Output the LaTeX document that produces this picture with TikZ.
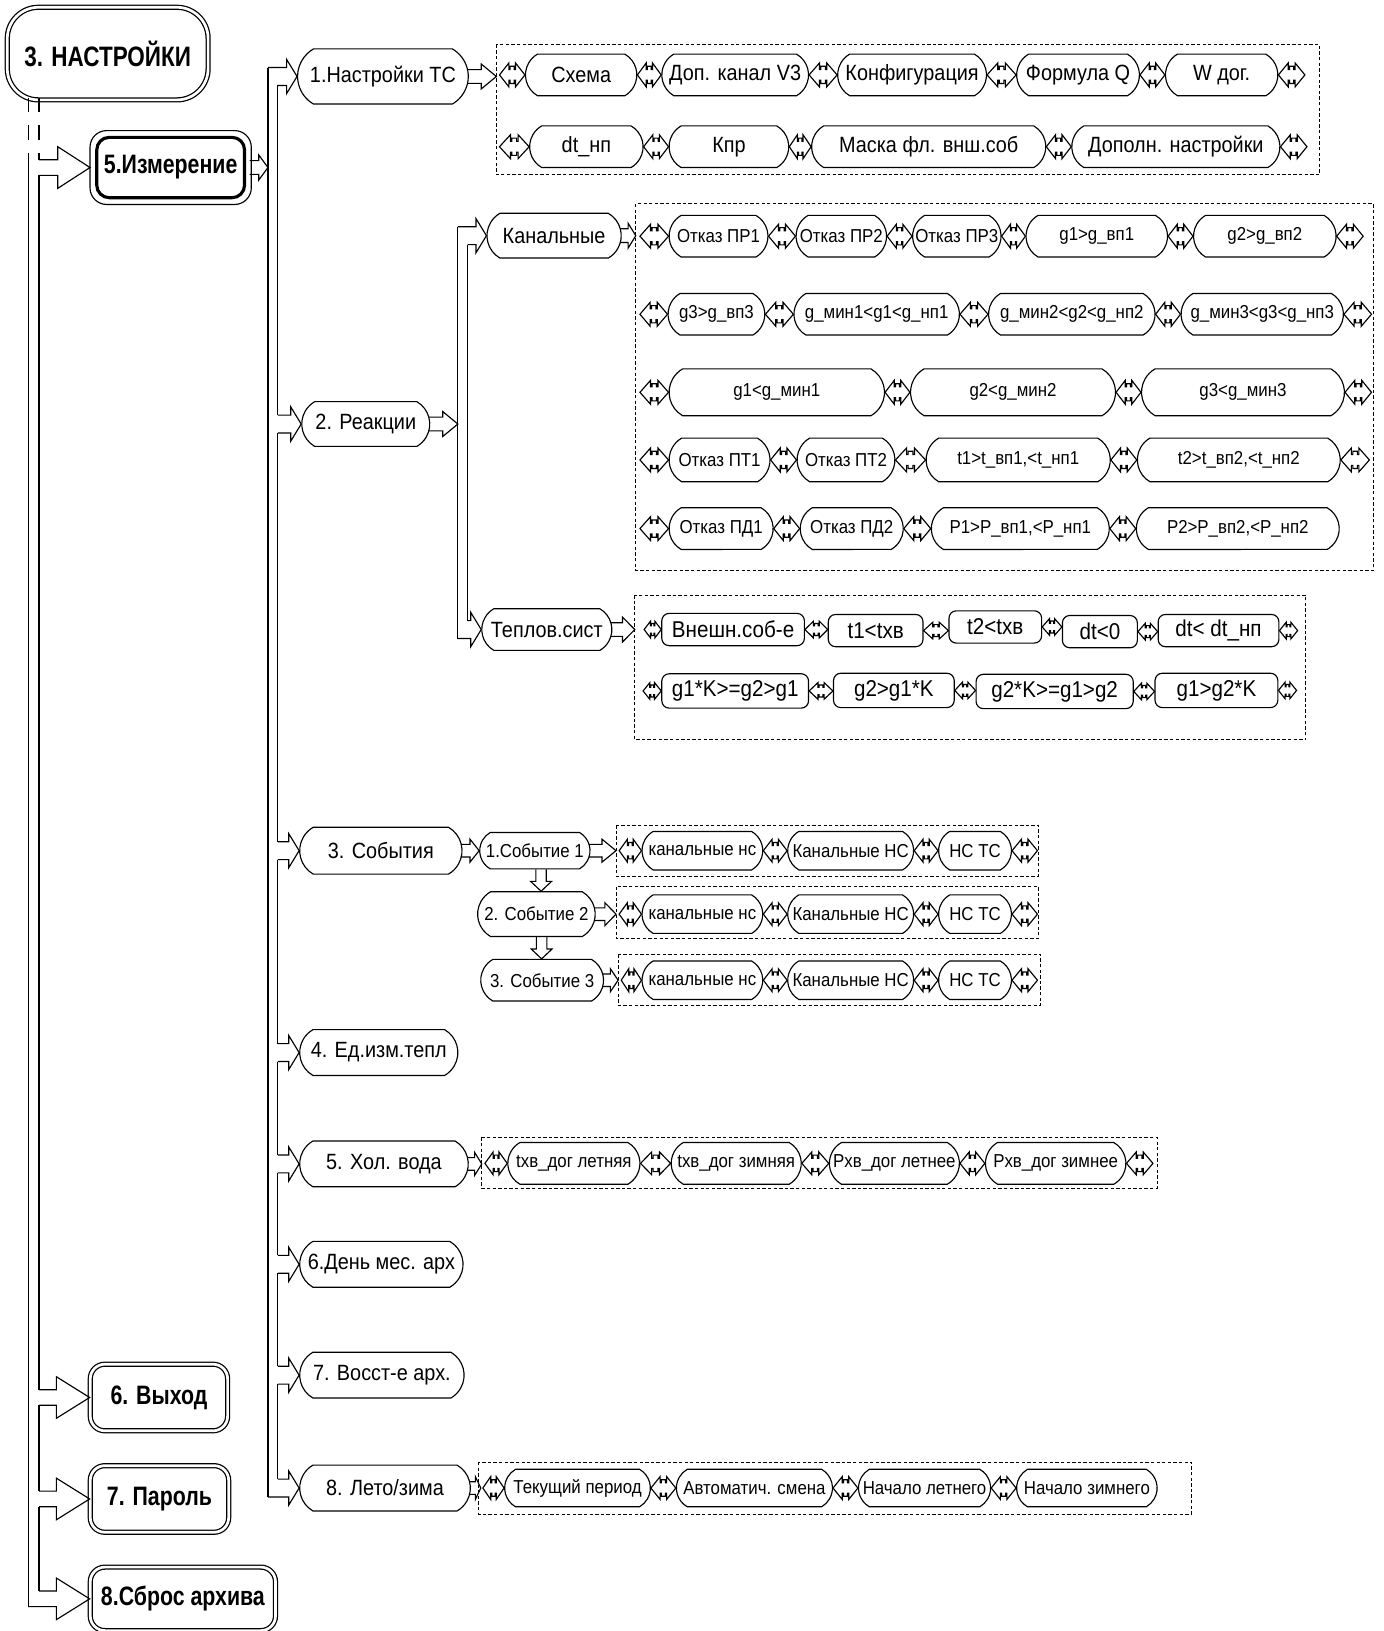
\documentclass[tikz,border=0pt]{standalone}
\usepackage{fontspec}
\setmainfont{Liberation Sans}[FakeStretch=0.9]
\newfontfamily\boldfam{Liberation Sans}[FakeStretch=0.8]
\usetikzlibrary{calc,shapes.misc}
\tikzset{
 mline/.style={line width=0.55pt},
 itembox/.style={draw, line width=0.55pt, rounded rectangle, rounded rectangle arc length=120, inner sep=0pt, minimum height=20pt, font=\fontsize{10.6}{12}\selectfont},
 smalltxt/.style={font=\fontsize{9}{10}\selectfont},
 sqbox/.style={rectangle, rounded corners=3.5pt, minimum height=15.5pt, font=\fontsize{11}{12}\selectfont},
 lvbox/.style={minimum height=22pt},
 l1box/.style={draw, rectangle, rounded corners=7pt, double, double distance=1.3pt, line width=0.6pt, inner sep=0pt, font=\boldfam\bfseries\fontsize{12.8}{14}\selectfont},
 dashbox/.style={draw, line width=0.5pt, dash pattern=on 1.6pt off 1.1pt},
}
\newcommand\ibox[6][]{\node[itembox,#1,minimum width={(#4-#3)*0.5pt}] (#2) at ({(#3+#4)/2},#5) {\makebox[0pt]{#6}};}
% hollow double arrow between two points (horizontal)
\newcommand\dblar[3][5.75pt]{\draw[mline] let \p1=#2, \p2=#3, \n1={0.37*(\x2-\x1)}, \n2={#1}, \n3={0.45*#1}, \n4={0.72*#1}, \n5={0.5*(\x1+\x2)}, \n6={0.08*(\x2-\x1)} in
 (\x1,\y1) -- (\x1+\n1,\y1+\n2) -- (\x1+\n1,\y1+\n3) -- (\n5-\n6,\y1+\n3) -- (\n5-\n6,\y1+\n4) -- (\n5+\n6,\y1+\n4) -- (\n5+\n6,\y1+\n3) -- (\x2-\n1,\y1+\n3) -- (\x2-\n1,\y1+\n2) -- (\x2,\y1)
 -- (\x2-\n1,\y1-\n2) -- (\x2-\n1,\y1-\n3) -- (\n5+\n6,\y1-\n3) -- (\n5+\n6,\y1-\n4) -- (\n5-\n6,\y1-\n4) -- (\n5-\n6,\y1-\n3) -- (\x1+\n1,\y1-\n3) -- (\x1+\n1,\y1-\n2) -- cycle;}
% hollow single arrow from node to a point
\newcommand\sgar[3][6pt]{\draw[mline] let \p1=#2, \p2=#3, \n1={0.55*(\x2-\x1)}, \n2={#1}, \n3={0.55*#1} in
 (\x1-0.8pt,\y1+\n3) -- (\x2-\n1,\y1+\n3) -- (\x2-\n1,\y1+\n2) -- (\x2,\y1) -- (\x2-\n1,\y1-\n2) -- (\x2-\n1,\y1-\n3) -- (\x1-0.8pt,\y1-\n3);}
% branch arrow from trunk (top start, bottom start, tip, h, H, k)
\newcommand\brar[6]{\draw[mline] let \p1=#3, \p2=#1, \p3=#2 in
 (\x2,\y1+#4) -- (\x1-#6,\y1+#4) -- (\x1-#6,\y1+#5) -- (\x1,\y1) -- (\x1-#6,\y1-#5) -- (\x1-#6,\y1-#4) -- (\x3,\y1-#4);}
% downward hollow arrow
\newcommand\dnar[2]{\draw[mline] let \p1=#1, \p2=#2, \n1={0.45*(\y1-\y2)} in
 (\x1-2.5pt,\y1) -- (\x1-2.5pt,\y2+\n1) -- (\x1-5pt,\y2+\n1) -- (\x1,\y2) -- (\x1+5pt,\y2+\n1) -- (\x1+2.5pt,\y2+\n1) -- (\x1+2.5pt,\y1);}
\begin{document}
\begin{tikzpicture}[x=0.5pt,y=-0.5pt]
\useasboundingbox (0,0) rectangle (1330,1567.4);
\fill[white] (0,0) rectangle (1330,1567.4);
\coordinate (T1o) at (27,0); \coordinate (T1i) at (37.5,0);
\coordinate (T2o) at (257.5,0); \coordinate (T2i) at (267,0);
\coordinate (T3o) at (440,0); \coordinate (T3i) at (449.5,0);

% ---------- level 1 ----------
\node[l1box, minimum width=96.5pt, minimum height=44.5pt, rounded corners=15pt, font=\boldfam\bfseries\fontsize{13.5}{15}\selectfont] (root) at (103.5,51.5) {3. НАСТРОЙКИ};
\node[draw, line width=1.5pt, rounded corners=6pt, minimum width=71pt, minimum height=29pt, inner sep=0pt, font=\boldfam\bfseries\fontsize{12.8}{14}\selectfont] (meas) at (164,161) {5.Измерение};
\draw[mline, rounded corners=8pt] ([shift={(-2.5pt,2.5pt)}]meas.north west) rectangle ([shift={(2.5pt,-2.5pt)}]meas.south east);
\node[l1box, minimum width=66pt, minimum height=32pt] (exit) at (152.75,1343) {6. Выход};
\node[l1box, minimum width=66.5pt, minimum height=32pt] (pass) at (153.25,1440.5) {7. Пароль};
\node[l1box, minimum width=89pt, minimum height=30.5pt] (reset) at (175.75,1536.5) {8.Сброс архива};

\draw[mline] (27,94)--(27,108) (27,120)--(27,135) (27,147)--(27,1544);
\draw[mline] (37.5,94)--(37.5,108) (37.5,120)--(37.5,135) (37.5,147)--(37.5,153.5) (37.5,168.5)--(37.5,1335.5) (37.5,1350.5)--(37.5,1433) (37.5,1448)--(37.5,1529);
\brar{(T1i)}{(T1i)}{([xshift=-2.5pt]meas.west)}{3.75pt}{10pt}{15.5pt}
\brar{(T1i)}{(T1i)}{(exit.west)}{3.75pt}{10pt}{16pt}
\brar{(T1i)}{(T1i)}{(pass.west)}{3.75pt}{10pt}{16pt}
\brar{(T1i)}{(T1o)}{(reset.west)}{3.75pt}{10pt}{16pt}

% ---------- level 2 ----------
\ibox[lvbox, minimum height=26.5pt]{n1}{286}{450}{73.5}{1.Настройки ТС}
\ibox[lvbox, minimum height=21.5pt]{n2}{290}{413}{407.5}{2. Реакции}
\ibox[lvbox, minimum height=22.5pt]{n3}{288}{444}{817.5}{3. События}
\ibox[lvbox]{n4}{288}{440}{1011.5}{4. Ед.изм.тепл}
\ibox[lvbox]{n5}{288}{450}{1118.5}{5. Хол. вода}
\ibox[lvbox]{n6}{288}{445}{1215}{6.День мес. арх}
\ibox[lvbox]{n7}{288}{446}{1321.5}{7. Восст-е арх.}
\ibox[lvbox]{n8}{288}{452}{1430}{8. Лето/зима}

\sgar[6pt]{([xshift=2.5pt]meas.east)}{(T2o)}
\draw[mline] (257.5,64.9)--(257.5,1438.6);
\draw[mline] (267,82.1)--(267,398.9) (267,416.1)--(267,808.9) (267,826.1)--(267,1002.9) (267,1020.1)--(267,1109.9) (267,1127.1)--(267,1206.4) (267,1223.6)--(267,1312.9) (267,1330.1)--(267,1421.4);
\brar{(T2o)}{(T2i)}{(n1.west)}{4.3pt}{8.2pt}{5pt}
\brar{(T2i)}{(T2i)}{(n2.west)}{4.3pt}{8.2pt}{5pt}
\brar{(T2i)}{(T2i)}{(n3.west)}{4.3pt}{8.2pt}{5pt}
\brar{(T2i)}{(T2i)}{(n4.west)}{4.3pt}{8.2pt}{5pt}
\brar{(T2i)}{(T2i)}{(n5.west)}{4.3pt}{8.2pt}{5pt}
\brar{(T2i)}{(T2i)}{(n6.west)}{4.3pt}{8.2pt}{5pt}
\brar{(T2i)}{(T2i)}{(n7.west)}{4.3pt}{8.2pt}{5pt}
\brar{(T2i)}{(T2o)}{(n8.west)}{4.3pt}{8.2pt}{5pt}

% ---------- 1. Настройки ТС ----------
\draw[dashbox] (477,43) rectangle (1268,168);
\sgar{(n1.east)}{(477,73.5)}
\ibox{a1}{505}{612}{72}{Схема}
\ibox{a2}{636}{777}{72}{Доп. канал V3}
\ibox{a3}{805}{948}{72}{Конфигурация}
\ibox{a4}{977}{1095}{72}{Формула Q}
\ibox{a5}{1120}{1228}{72}{W дог.}
\dblar{(480,72)}{(a1.west)} \dblar{(a1.east)}{(a2.west)} \dblar{(a2.east)}{(a3.west)}
\dblar{(a3.east)}{(a4.west)} \dblar{(a4.east)}{(a5.west)} \dblar{(a5.east)}{(1254,72)}
\ibox{b1}{509}{618}{141}{dt\_нп}
\ibox{b2}{643}{758}{141}{Кпр}
\ibox{b3}{780}{1005}{141}{Маска фл. внш.соб}
\ibox{b4}{1030}{1230}{141}{Дополн. настройки}
\dblar{(480,141)}{(b1.west)} \dblar{(b1.east)}{(b2.west)} \dblar{(b2.east)}{(b3.west)}
\dblar{(b3.east)}{(b4.west)} \dblar{(b4.east)}{(1256,141)}

% ---------- 2. Реакции ----------
\ibox[lvbox, minimum height=21.5pt]{kan}{468}{597}{226.5}{Канальные}
\ibox[lvbox, minimum height=20pt]{tep}{463}{588}{605}{Теплов.сист}
\sgar[6pt]{(n2.east)}{(T3o)}
\draw[mline] (440,217.9)--(440,613.6) (449.5,235.1)--(449.5,596.4);
\brar{(T3o)}{(T3i)}{(kan.west)}{4.3pt}{8.2pt}{5pt}
\brar{(T3i)}{(T3o)}{(tep.west)}{4.3pt}{8.2pt}{5pt}

\draw[dashbox] (611,196) rectangle (1320,548);
\sgar{(kan.east)}{(611,226.5)}
\ibox[smalltxt]{c11}{643}{738}{227}{Отказ ПР1}
\ibox[smalltxt]{c12}{765}{852}{227}{Отказ ПР2}
\ibox[smalltxt]{c13}{877}{962}{227}{Отказ ПР3}
\ibox[smalltxt]{c14}{986}{1122}{227}{g1>g\_вп1}
\ibox[smalltxt]{c15}{1147}{1284}{227}{g2>g\_вп2}
\dblar{(615,227)}{(c11.west)} \dblar{(c11.east)}{(c12.west)} \dblar{(c12.east)}{(c13.west)}
\dblar{(c13.east)}{(c14.west)} \dblar{(c14.east)}{(c15.west)} \dblar{(c15.east)}{(1310,227)}

\ibox[smalltxt]{c21}{642}{735}{302}{g3>g\_вп3}
\ibox[smalltxt]{c22}{763}{922}{302}{g\_мин1<g1<g\_нп1}
\ibox[smalltxt]{c23}{950}{1110}{302}{g\_мин2<g2<g\_нп2}
\ibox[smalltxt]{c24}{1135}{1291}{302}{g\_мин3<g3<g\_нп3}
\dblar{(615,302)}{(c21.west)} \dblar{(c21.east)}{(c22.west)} \dblar{(c22.east)}{(c23.west)}
\dblar{(c23.east)}{(c24.west)} \dblar{(c24.east)}{(1318,302)}

\ibox[smalltxt, minimum height=22.5pt]{c31}{643}{850}{377}{g1<g\_мин1}
\ibox[smalltxt, minimum height=22.5pt]{c32}{875}{1072}{377}{g2<g\_мин2}
\ibox[smalltxt, minimum height=22.5pt]{c33}{1097}{1292}{377}{g3<g\_мин3}
\dblar{(615,377)}{(c31.west)} \dblar{(c31.east)}{(c32.west)} \dblar{(c32.east)}{(c33.west)}
\dblar{(c33.east)}{(1318,377)}

\ibox[smalltxt, minimum height=21pt]{c41}{643}{740}{442}{Отказ ПТ1}
\ibox[smalltxt, minimum height=21pt]{c42}{766}{860}{442}{Отказ ПТ2}
\ibox[smalltxt, minimum height=21pt]{c43}{890}{1067}{442}{t1>t\_вп1,<t\_нп1}
\ibox[smalltxt, minimum height=21pt]{c44}{1093}{1288}{442}{t2>t\_вп2,<t\_нп2}
\dblar{(615,442)}{(c41.west)} \dblar{(c41.east)}{(c42.west)} \dblar{(c42.east)}{(c43.west)}
\dblar{(c43.east)}{(c44.west)} \dblar{(c44.east)}{(1316,442)}

\ibox[smalltxt]{c51}{643}{743}{508}{Отказ ПД1}
\ibox[smalltxt]{c52}{769}{868}{508}{Отказ ПД2}
\ibox[smalltxt]{c53}{895}{1066}{508}{P1>P\_вп1,<P\_нп1}
\ibox[smalltxt]{c54}{1092}{1287}{508}{P2>P\_вп2,<P\_нп2}
\dblar{(615,508)}{(c51.west)} \dblar{(c51.east)}{(c52.west)} \dblar{(c52.east)}{(c53.west)}
\dblar{(c53.east)}{(c54.west)}

\draw[dashbox] (610,572) rectangle (1255,711);
\sgar{(tep.east)}{(610,605)}
\ibox[sqbox]{t11}{636}{773}{605}{Внешн.соб-е}
\ibox[sqbox]{t12}{796}{887}{606}{t1<tхв}
\ibox[sqbox]{t13}{912}{1001}{602.5}{t2<tхв}
\ibox[sqbox]{t14}{1021}{1093}{607}{dt<0}
\ibox[sqbox]{t15}{1113}{1229}{606}{dt< dt\_нп}
\dblar[4pt]{(619,605)}{(t11.west)} \dblar[4pt]{(t11.east)}{(t12.west)} \dblar[4pt]{(t12.east)}{(t13.west)}
\dblar[4pt]{(t13.east)}{(t14.west)} \dblar[4pt]{(t14.east)}{(t15.west)} \dblar[4pt]{(t15.east)}{(1247,605)}
\ibox[sqbox, minimum height=16.5pt]{t21}{636}{777}{664}{g1*K>=g2>g1}
\ibox[sqbox, minimum height=16.5pt]{t22}{801}{917}{663.5}{g2>g1*K}
\ibox[sqbox, minimum height=16.5pt]{t23}{938}{1089}{664.5}{g2*K>=g1>g2}
\ibox[sqbox, minimum height=16.5pt]{t24}{1110}{1228}{663.5}{g1>g2*K}
\dblar[4pt]{(618,664)}{(t21.west)} \dblar[4pt]{(t21.east)}{(t22.west)} \dblar[4pt]{(t22.east)}{(t23.west)}
\dblar[4pt]{(t23.east)}{(t24.west)} \dblar[4pt]{(t24.east)}{(1246,664)}

% ---------- 3. События ----------
\ibox[smalltxt, minimum height=17.5pt]{e1}{461}{567}{817.5}{1.Событие 1}
\ibox[smalltxt, minimum height=21.5pt]{e2}{459}{572}{878.5}{2. Событие 2}
\ibox[smalltxt, minimum height=20pt]{e3}{462}{580}{942}{3. Событие 3}
\sgar[5.5pt]{(n3.east)}{(e1.west)}
\dnar{([xshift=3pt]e1.south)}{([xshift=3pt]e2.north)}
\dnar{([xshift=2.5pt]e2.south)}{([xshift=2.5pt]e2.south |- e3.north)}

\draw[dashbox] (592,793) rectangle (998,842);
\draw[dashbox] (592,852) rectangle (998,902);
\draw[dashbox] (594,917) rectangle (1000,966);
\sgar[5.5pt]{(e1.east)}{(592,817.5)}
\sgar[5.5pt]{(e2.east)}{(592,878.5)}
\sgar[5.5pt]{(e3.east)}{(594,942)}

\ibox[smalltxt, minimum height=18.5pt]{f11}{617}{733}{817.5}{канальные нс}
\ibox[smalltxt, minimum height=18.5pt]{f12}{757}{878}{817.5}{Канальные НС}
\ibox[smalltxt, minimum height=18.5pt]{f13}{902}{972}{817.5}{НС ТС}
\dblar[5.5pt]{(595,817.5)}{(f11.west)} \dblar[5.5pt]{(f11.east)}{(f12.west)} \dblar[5.5pt]{(f12.east)}{(f13.west)} \dblar[5.5pt]{(f13.east)}{(997,817.5)}
\ibox[smalltxt, minimum height=18.5pt]{f21}{617}{733}{878.5}{канальные нс}
\ibox[smalltxt, minimum height=18.5pt]{f22}{757}{878}{878.5}{Канальные НС}
\ibox[smalltxt, minimum height=18.5pt]{f23}{902}{972}{878.5}{НС ТС}
\dblar[5.5pt]{(595,878.5)}{(f21.west)} \dblar[5.5pt]{(f21.east)}{(f22.west)} \dblar[5.5pt]{(f22.east)}{(f23.west)} \dblar[5.5pt]{(f23.east)}{(997,878.5)}
\ibox[smalltxt, minimum height=18.5pt]{f31}{617}{733}{942}{канальные нс}
\ibox[smalltxt, minimum height=18.5pt]{f32}{757}{878}{942}{Канальные НС}
\ibox[smalltxt, minimum height=18.5pt]{f33}{902}{972}{942}{НС ТС}
\dblar[5.5pt]{(597,942)}{(f31.west)} \dblar[5.5pt]{(f31.east)}{(f32.west)} \dblar[5.5pt]{(f32.east)}{(f33.west)} \dblar[5.5pt]{(f33.east)}{(997,942)}

% ---------- 5. Хол. вода ----------
\draw[dashbox] (463,1093) rectangle (1112,1142);
\sgar[5.5pt]{(n5.east)}{(463,1118.5)}
\ibox[smalltxt]{w1}{488}{615}{1118}{tхв\_дог летняя}
\ibox[smalltxt]{w2}{645}{770}{1118}{tхв\_дог зимняя}
\ibox[smalltxt]{w3}{797}{922}{1118}{Рхв\_дог летнее}
\ibox[smalltxt]{w4}{947}{1082}{1118}{Рхв\_дог зимнее}
\dblar[5.5pt]{(466,1118)}{(w1.west)} \dblar[5.5pt]{(w1.east)}{(w2.west)} \dblar[5.5pt]{(w2.east)}{(w3.west)}
\dblar[5.5pt]{(w3.east)}{(w4.west)} \dblar[5.5pt]{(w4.east)}{(1108,1118)}

% ---------- 8. Лето/зима ----------
\draw[dashbox] (460,1405) rectangle (1145,1455);
\sgar[5.5pt]{(n8.east)}{(462,1430)}
\ibox[smalltxt, minimum height=18pt]{s1}{485}{625}{1430}{Текущий период}
\ibox[smalltxt, minimum height=18pt]{s2}{650}{800}{1430}{Автоматич. смена}
\ibox[smalltxt, minimum height=18pt]{s3}{825}{952}{1430}{Начало летнего}
\ibox[smalltxt, minimum height=18pt]{s4}{977}{1112}{1430}{Начало зимнего}
\dblar[5.5pt]{(464,1430)}{(s1.west)} \dblar[5.5pt]{(s1.east)}{(s2.west)} \dblar[5.5pt]{(s2.east)}{(s3.west)}
\dblar[5.5pt]{(s3.east)}{(s4.west)}
\end{tikzpicture}
\end{document}
